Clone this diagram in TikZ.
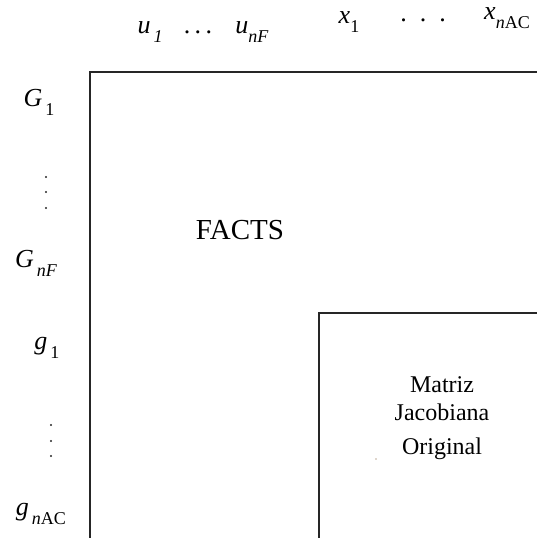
\documentclass[tikz,border=0pt]{standalone}
\usepackage{fontspec}
\setmainfont{Liberation Serif}
\usetikzlibrary{positioning}

\newcommand{\sublbl}[2]{\textit{#1}\raisebox{-0.35em}{\fontsize{18}{18}\selectfont #2}}

\begin{document}
\begin{tikzpicture}[x=1pt, y=-1pt,
  lbl/.style={inner sep=0pt, font=\fontsize{26}{26}\selectfont},
  blocktext/.style={inner sep=0pt, align=center, font=\fontsize{24}{28}\selectfont},
  frame/.style={line width=1.2pt, draw=black!85}
]
  \useasboundingbox (0,0) rectangle (537,538);

  % outer and inner blocks
  \draw[frame] (537,72) -| (90,538);
  \draw[frame] (537,313) -| (319,538);

  % column labels
  \node[lbl] (u1) at (150,32) {\sublbl{u}{\,\textit{1}}};
  \node[lbl] (udots) at (198,32) {.\,.\,.};
  \node[lbl] (unF) at (252,32) {\sublbl{u}{\textit{nF}}};
  \node[lbl] (x1) at (349,22) {\sublbl{x}{1}};
  \node[lbl] (xdots) at (423,20) {.\ \ .\ \ .};
  \node[lbl] (xnAC) at (507,18) {\sublbl{x}{\textit{n}AC}};

  % row labels
  \node[lbl] (G1) at (39,102) {\sublbl{G}{\,1}};
  \node[lbl] (GnF) at (36,263) {\sublbl{G}{\,\textit{nF}}};
  \node[lbl] (g1) at (47,348) {\sublbl{g}{\,1}};
  \node[lbl] (gnAC) at (41,514) {\sublbl{g}{\,\textit{n}AC}};
  \foreach \y in {177,192,208} \fill[black!85] (46,\y) circle (1.1pt);
  \foreach \y in {425,441,456} \fill[black!85] (51,\y) circle (1.1pt);

  % block texts
  \node[blocktext, font=\fontsize{29}{29}\selectfont] (facts) at (240,230) {FACTS};
  \node[blocktext] (jac) at (442,418) {Matriz\\Jacobiana\\[6pt]Original};
  \fill[brown!60!black] (376,459) circle (0.6pt);
\end{tikzpicture}
\end{document}
